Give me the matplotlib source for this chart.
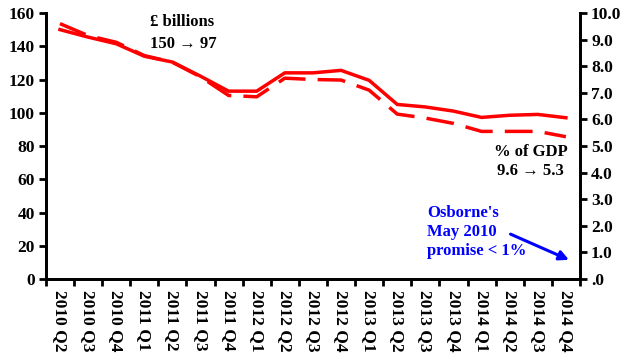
import numpy as np
import matplotlib.pyplot as plt
from matplotlib.ticker import FixedLocator, FuncFormatter

plt.rcParams['font.family'] = ['Liberation Serif', 'DejaVu Serif']
plt.rcParams['font.weight'] = 'bold'

# quarters
quarters = ['2010 Q2', '2010 Q3', '2010 Q4', '2011 Q1', '2011 Q2', '2011 Q3', '2011 Q4',
            '2012 Q1', '2012 Q2', '2012 Q3', '2012 Q4', '2013 Q1', '2013 Q2', '2013 Q3',
            '2013 Q4', '2014 Q1', '2014 Q2', '2014 Q3', '2014 Q4']

# borrowing, £ billions (left axis)
billions = [150, 145.5, 141.5, 134, 130.5, 122, 113, 113, 124, 124, 125.5, 119.5,
            105, 103.5, 101, 97.2, 98.5, 99, 97]

# borrowing, % of GDP (right axis)
pct_gdp = [9.6, 9.15, 8.9, 8.4, 8.15, 7.6, 6.9, 6.85, 7.55, 7.5, 7.48, 7.1,
           6.2, 6.05, 5.85, 5.55, 5.55, 5.55, 5.35]

x = np.arange(len(quarters))

fig = plt.figure(figsize=(6.29, 3.61), dpi=100)
ax = fig.add_axes([0.073, 0.227, 0.849, 0.737])
ax2 = ax.twinx()

ax.plot(x, billions, color='red', lw=2.5, solid_joinstyle='miter')
ax2.plot(x, pct_gdp, color='red', lw=2.5, dashes=(8, 3.5))

ax.set_xlim(-0.5, len(quarters) - 0.5)
ax.set_ylim(0, 160)
ax2.set_ylim(0, 10)

ax.set_yticks(np.arange(0, 161, 20))
ax2.set_yticks(np.arange(0, 11, 1))
ax2.yaxis.set_major_formatter(FuncFormatter(lambda v, p: '.0' if v == 0 else '%.1f' % v))

ax.set_xticks(x)
ax.set_xticklabels(quarters, rotation=-90, fontsize=12.5)
ax.xaxis.set_minor_locator(FixedLocator(np.arange(-0.5, len(quarters), 1)))
ax.tick_params(axis='x', which='major', length=0, pad=8)
ax.tick_params(axis='x', which='minor', length=5, width=2)
ax.tick_params(axis='y', length=5, width=2, labelsize=12.5, pad=3)
ax2.tick_params(axis='y', length=5, width=2, labelsize=12.5, pad=3)

for a in (ax, ax2):
    a.spines['top'].set_visible(False)
    for s in ('left', 'right', 'bottom'):
        a.spines[s].set_linewidth(2)

ax.text(0.195, 0.966, '£ billions', transform=ax.transAxes, fontsize=12, va='center')
ax.text(0.195, 0.883, '150 → 97', transform=ax.transAxes, fontsize=12, va='center')
ax.text(0.908, 0.44, '% of GDP\n9.6 → 5.3', transform=ax.transAxes, fontsize=12,
        ha='center', va='center', linespacing=1.25)

ax2.text(13.05, 1.77, "Osborne's\nMay 2010\npromise < 1%", color='blue', fontsize=12,
         ha='left', va='center', linespacing=1.25)
ax2.annotate('', xy=(18.2, 0.68), xytext=(15.94, 1.73),
             arrowprops=dict(arrowstyle='-|>', color='blue', lw=2.2, mutation_scale=14))

plt.savefig('out.png', dpi=100)
